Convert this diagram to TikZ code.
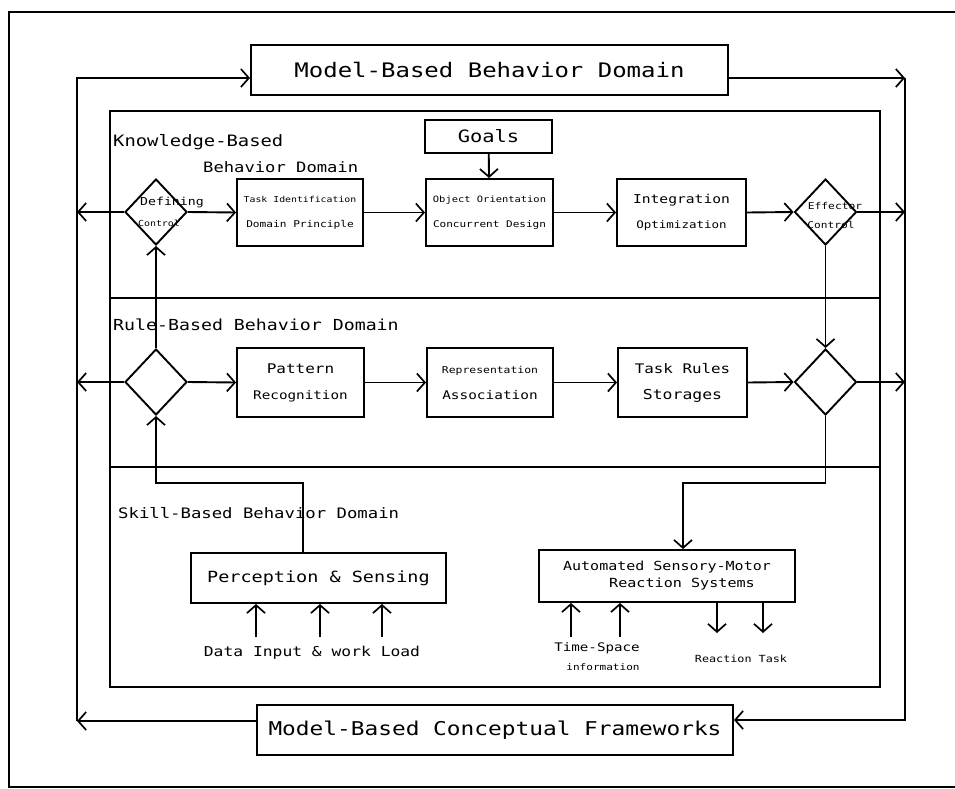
\documentclass[tikz,border=0pt]{standalone}
\usepackage{fontspec}
\newfontfamily\pf[FakeStretch=1.2]{DejaVu Sans Mono}
\usetikzlibrary{arrows.meta,shapes.geometric}
\newcommand\fsz[2]{\fontsize{#1}{#2}\selectfont}
\begin{document}
\begin{tikzpicture}[x=1pt,y=-1pt,
 arr/.style={line width=1.9pt,-{Straight Barb[length=8pt,width=18pt,line width=1.7pt]}},
 box/.style={draw,line width=1.9pt,rectangle,inner sep=0pt,align=center,font=\pf},
 dia/.style={draw,line width=1.9pt,diamond,inner sep=0pt,minimum width=62pt,minimum height=66pt},
 lbl/.style={inner sep=0pt,font=\pf,align=center},
 frame/.style={line width=1.4pt}]
\useasboundingbox (0,0) rectangle (955,789);
\draw[line width=1.8pt] (955,12) -- (9,12) -- (9,787) -- (955,787);

% outer loop
\node[box,minimum width=477pt,minimum height=50pt] (top) at (489.5,70) {\fsz{20}{24}Model-Based Behavior Domain};
\node[box,minimum width=476pt,minimum height=50pt] (bot) at (495,730) {\fsz{19}{23}Model-Based Conceptual Frameworks};
\coordinate (TL) at (77,78);
\coordinate (BL) at (77,721);
\coordinate (TR) at (905,78);
\coordinate (BR) at (905,720);
\draw[arr] (bot.west |- BL) -- (BL);
\draw[arr] (BL) -- (TL) -- (TL -| top.west);
\draw[arr] (top.east |- TR) -- (TR);
\draw[arr] (TR) -- (BR) -- (BR -| bot.east);

% inner frame
\draw[frame] (110,111) rectangle (880,687);
\draw[frame] (110,298) -- (880,298);
\draw[frame] (110,467) -- (880,467);

% knowledge-based
\node[lbl,anchor=west] (kb1) at (113,142) {\fsz{15.7}{18}Knowledge-Based};
\node[lbl,anchor=west] (kb2) at (203,167) {\fsz{14.3}{17}Behavior Domain};
\node[box,minimum width=127pt,minimum height=33pt] (goals) at (488.5,136.5) {\fsz{17}{20}Goals};
\node[dia] (d1) at (156,212) {};
\node[lbl] (d1a) at (172,203) {\fsz{11}{13}Defining};
\node[lbl] (d1b) at (159,223) {\fsz{8.3}{10}Control};
\node[box,minimum width=126pt,minimum height=67pt,font=\pf\fsz{10}{25}] (task) at (300,212.5) {\fsz{8.2}{25}Task Identification\\\fsz{9.3}{25}Domain Principle};
\node[box,minimum width=127pt,minimum height=67pt,font=\pf\fsz{10}{25}] (obj) at (489.5,212.5) {\fsz{8.7}{25}Object Orientation\\\fsz{9.2}{25}Concurrent Design};
\node[box,minimum width=129pt,minimum height=67pt,font=\pf\fsz{10}{25}] (integ) at (681.5,212.5) {\fsz{12.2}{25}Integration\\\fsz{10.4}{25}Optimization};
\node[dia] (e1) at (825.5,212) {};
\node[lbl] (e1a) at (835,206) {\fsz{9.4}{11}Effector};
\node[lbl] (e1b) at (831,225) {\fsz{9.3}{11}Control};
\draw[arr] (goals) -- (obj);
\draw[arr] (d1.east) -- (task.west);
\draw[arr] (task) -- (obj);
\draw[arr] (obj) -- (integ);
\draw[arr] (integ.east) -- (e1.west);
\draw[arr] (e1.east) -- (e1.east -| TR);
\draw[arr] (d1.west) -- (d1.west -| TL);

% rule-based
\node[lbl,anchor=west] (rb) at (113,325) {\fsz{15.2}{18}Rule-Based Behavior Domain};
\node[dia] (r1) at (156,382) {};
\node[box,minimum width=127pt,minimum height=69pt,font=\pf\fsz{10}{26}] (pat) at (300.5,382.5) {\fsz{13.3}{26}Pattern\\\fsz{11.9}{26}Recognition};
\node[box,minimum width=126pt,minimum height=69pt,font=\pf\fsz{10}{26}] (rep) at (490,382.5) {\fsz{9.5}{26}Representation\\\fsz{12}{26}Association};
\node[box,minimum width=129pt,minimum height=69pt,font=\pf\fsz{10}{26}] (rules) at (682.5,382.5) {\fsz{13.2}{26}Task Rules\\\fsz{13.7}{26}Storages};
\node[dia] (r2) at (825.5,382) {};
\draw[arr] (r1.east) -- (pat.west);
\draw[arr] (pat) -- (rep);
\draw[arr] (rep) -- (rules);
\draw[arr] (rules.east) -- (r2.west);
\draw[arr] (r2.east) -- (r2.east -| TR);
\draw[arr] (r1.west) -- (r1.west -| TL);
\draw[arr] (r1.north) -- (d1.south);
\draw[arr] (e1.south) -- (r2.north);

% skill-based
\node[lbl,anchor=west] (sb) at (118,513) {\fsz{14.4}{17}Skill-Based Behavior Domain};
\node[box,minimum width=255pt,minimum height=50pt] (perc) at (318.5,578) {\fsz{15.4}{18}Perception \& Sensing};
\node[box,minimum width=256pt,minimum height=52pt,font=\pf\fsz{10}{17}] (auto) at (667,576) {\fsz{12.5}{17}Automated Sensory-Motor\\\fsz{12.6}{17}\hspace*{30pt}Reaction Systems};
\coordinate (jp) at (303,483);
\coordinate (ja) at (683,483);
\draw[arr] (perc.north -| jp) -- (jp) -| (r1.south);
\draw[arr] (r2.south) |- (ja) -- (auto.north -| ja);
\coordinate (i1) at (256,637);
\coordinate (i2) at (320,637);
\coordinate (i3) at (382,637);
\coordinate (t1) at (571,637);
\coordinate (t2) at (620,637);
\coordinate (o1) at (717,633);
\coordinate (o2) at (763,633);
\draw[arr] (i1) -- (i1 |- perc.south);
\draw[arr] (i2) -- (i2 |- perc.south);
\draw[arr] (i3) -- (i3 |- perc.south);
\draw[arr] (t1) -- (t1 |- auto.south);
\draw[arr] (t2) -- (t2 |- auto.south);
\draw[arr] (o1 |- auto.south) -- (o1);
\draw[arr] (o2 |- auto.south) -- (o2);
\node[lbl] (din) at (312,653) {\fsz{13.6}{16}Data Input \& work Load};
\node[lbl] (ts) at (597,648) {\fsz{11.8}{14}Time-Space};
\node[lbl] (inf) at (603,667) {\fsz{9.2}{11}information};
\node[lbl] (rt) at (741,659) {\fsz{9.8}{12}Reaction Task};
\end{tikzpicture}
\end{document}
